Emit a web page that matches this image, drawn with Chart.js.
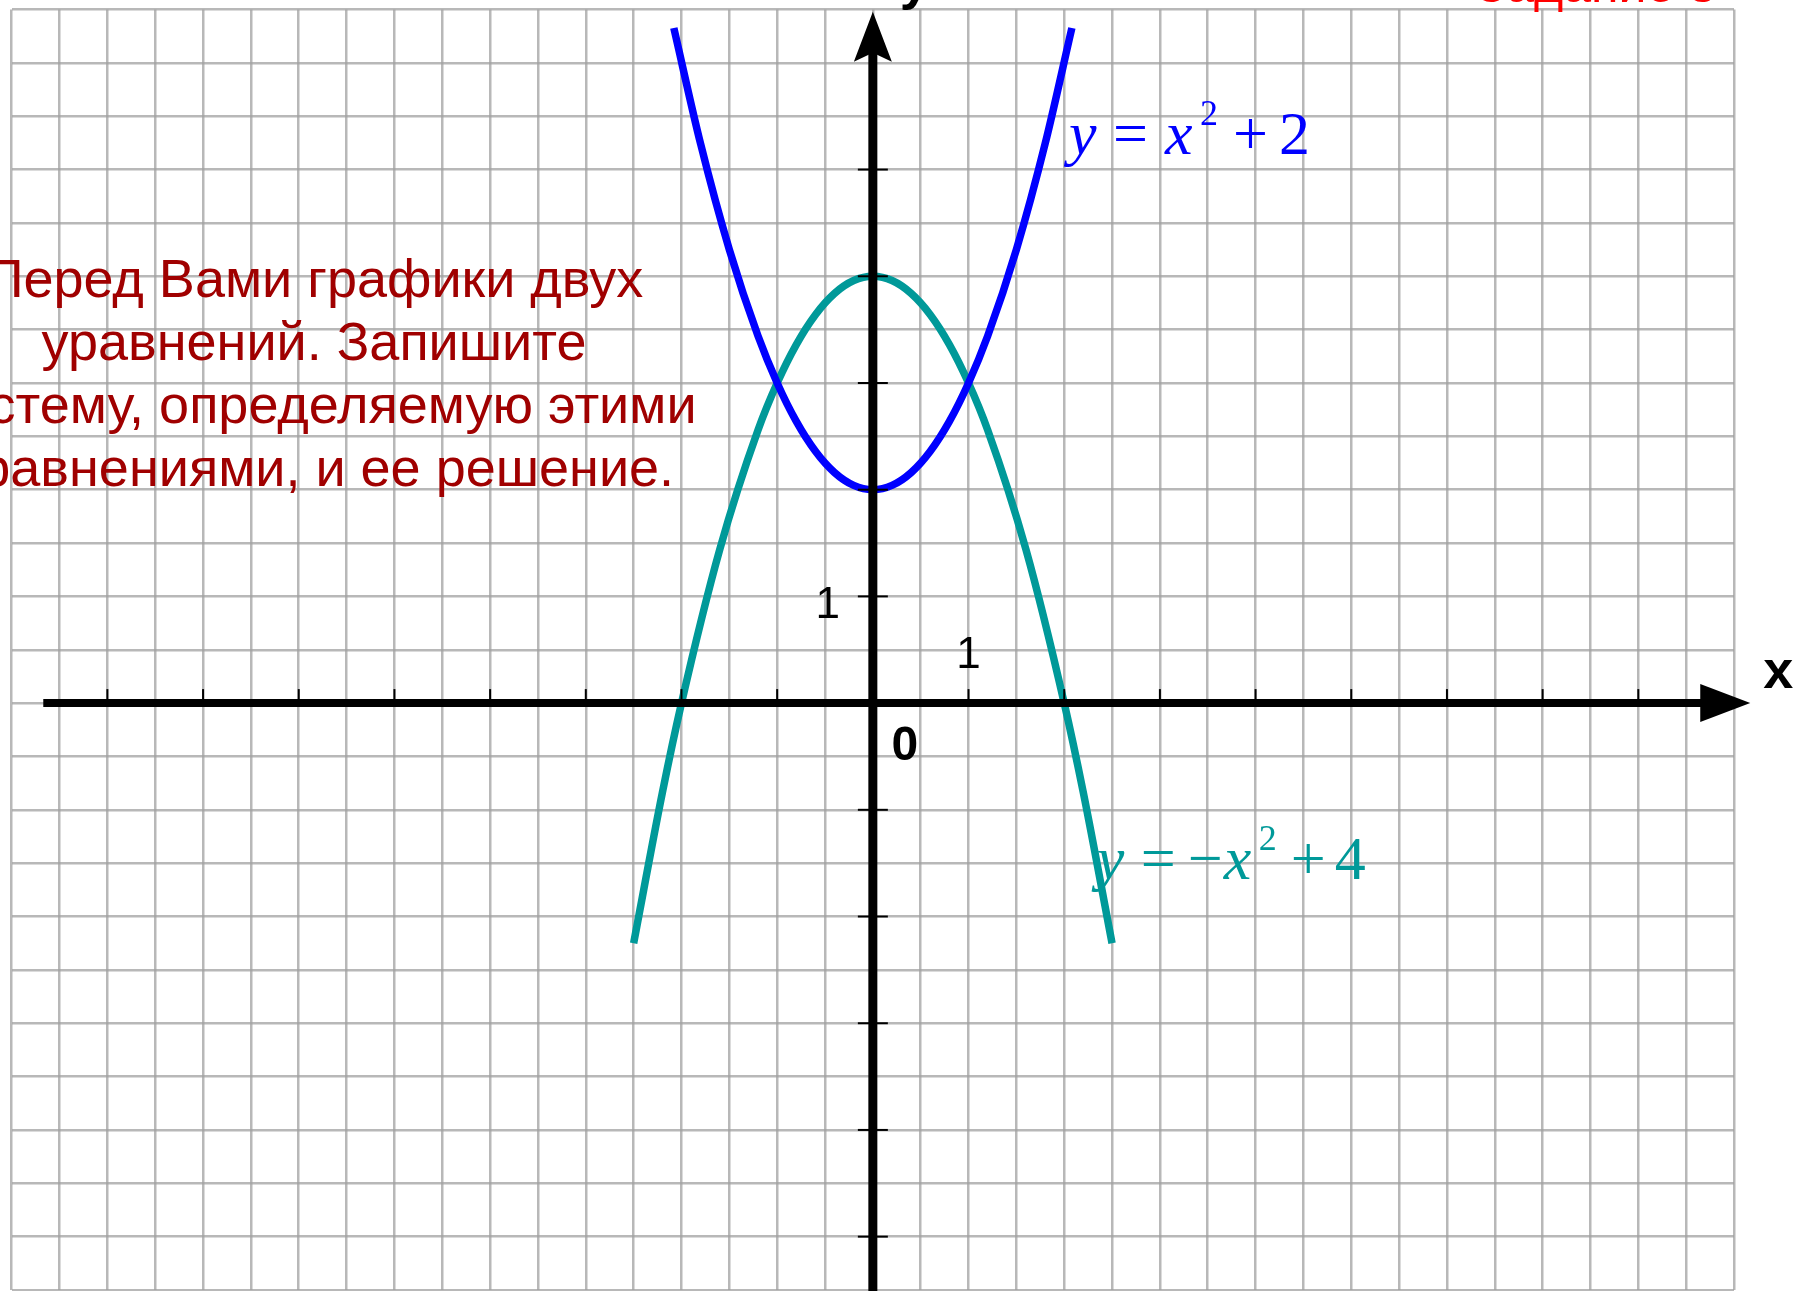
<!DOCTYPE html>
<html lang="ru">
<head>
<meta charset="utf-8">
<title>y = x² + 2, y = −x² + 4</title>
<script src="https://cdn.jsdelivr.net/npm/chart.js@4.4.1/dist/chart.umd.min.js"></script>
<style>
  html, body { margin: 0; padding: 0; background: #fff; overflow: hidden; }
  #wrap { position: relative; width: 1793px; height: 1291px; }
</style>
</head>
<body>
<div id="wrap">
  <canvas id="graph" width="1793" height="1291"></canvas>
</div>
<script>
// y = x^2 + 2
var upperX = [-2.08, -1.8, -1.5, -1.2, -1, -0.8, -0.6, -0.4, -0.2, 0, 0.2, 0.4, 0.6, 0.8, 1, 1.2, 1.5, 1.8, 2.08];
var upperY = [6.3264, 5.24, 4.25, 3.44, 3, 2.64, 2.36, 2.16, 2.04, 2, 2.04, 2.16, 2.36, 2.64, 3, 3.44, 4.25, 5.24, 6.3264];

// y = -x^2 + 4
var lowerX = [-2.5, -2.2, -2, -1.6, -1.2, -1, -0.8, -0.6, -0.4, -0.2, 0, 0.2, 0.4, 0.6, 0.8, 1, 1.2, 1.6, 2, 2.2, 2.5];
var lowerY = [-2.25, -0.84, 0, 1.44, 2.56, 3, 3.36, 3.64, 3.84, 3.96, 4, 3.96, 3.84, 3.64, 3.36, 3, 2.56, 1.44, 0, -0.84, -2.25];

// axis ticks
var xTicks = [-8, -7, -6, -5, -4, -3, -2, -1, 1, 2, 3, 4, 5, 6, 7, 8];
var yTicks = [-5, -4, -3, -2, -1, 1, 2, 3, 4, 5];

var taskText = [
  "Перед Вами графики двух",
  "уравнений. Запишите",
  "систему, определяемую этими",
  "уравнениями, и ее решение."
];

function toPoints(xs, ys) {
  return xs.map(function (x, i) { return { x: x, y: ys[i] }; });
}

var BLUE = "#0000ff";
var TEAL = "#009999";

// black axes with arrows, tick marks and all captions
var axesPlugin = {
  id: "axes",
  afterDatasetsDraw: function (chart) {
    var ctx = chart.ctx;
    var sx = chart.scales.x, sy = chart.scales.y;
    var ox = sx.getPixelForValue(0), oy = sy.getPixelForValue(0);

    ctx.save();
    ctx.strokeStyle = "#000";
    ctx.fillStyle = "#000";

    // x axis
    var xStart = sx.getPixelForValue(-8.67);
    var xTip = sx.getPixelForValue(9.17);
    ctx.lineWidth = 8;
    ctx.beginPath();
    ctx.moveTo(xStart, oy);
    ctx.lineTo(xTip - 40, oy);
    ctx.stroke();
    ctx.beginPath();
    ctx.moveTo(xTip, oy);
    ctx.lineTo(xTip - 50, oy - 19);
    ctx.lineTo(xTip - 50, oy + 19);
    ctx.closePath();
    ctx.fill();

    // y axis
    var yTip = sy.getPixelForValue(6.48);
    ctx.lineWidth = 9;
    ctx.beginPath();
    ctx.moveTo(ox, chart.height + 5);
    ctx.lineTo(ox, yTip + 40);
    ctx.stroke();
    ctx.beginPath();
    ctx.moveTo(ox, yTip);
    ctx.lineTo(ox - 19, yTip + 50);
    ctx.lineTo(ox, yTip + 41);
    ctx.lineTo(ox + 19, yTip + 50);
    ctx.closePath();
    ctx.fill();

    // tick marks
    ctx.lineWidth = 2;
    xTicks.forEach(function (v) {
      var px = sx.getPixelForValue(v);
      ctx.beginPath();
      ctx.moveTo(px, oy);
      ctx.lineTo(px, oy - 14);
      ctx.stroke();
    });
    yTicks.forEach(function (v) {
      var py = sy.getPixelForValue(v);
      ctx.beginPath();
      ctx.moveTo(ox - 15, py);
      ctx.lineTo(ox + 15, py);
      ctx.stroke();
    });

    // tick captions
    ctx.textAlign = "center";
    ctx.textBaseline = "alphabetic";
    ctx.font = "44px 'Liberation Sans', Arial, sans-serif";
    ctx.fillText("1", ox - 45, sy.getPixelForValue(1) + 22);
    ctx.fillText("1", sx.getPixelForValue(1), oy - 35);
    ctx.font = "bold 48px 'Liberation Sans', Arial, sans-serif";
    ctx.fillText("0", ox + 32, oy + 57);

    // axis names
    ctx.textAlign = "left";
    ctx.font = "bold 54px 'Liberation Sans', Arial, sans-serif";
    ctx.fillText("x", xTip + 13, oy - 15);
    ctx.fillText("y", ox + 27, -1);

    // task number, cut by the top edge
    ctx.fillStyle = "#ff0000";
    ctx.font = "50px 'Liberation Sans', Arial, sans-serif";
    ctx.fillText("Задание 3", 1476, 2);

    // task text
    ctx.fillStyle = "#a00000";
    ctx.textAlign = "center";
    ctx.font = "54px 'Liberation Sans', Arial, sans-serif";
    taskText.forEach(function (line, i) {
      ctx.fillText(line, 314, 297 + i * 63);
    });

    // formula captions
    drawFormula(ctx, sx.getPixelForValue(2.05), sy.getPixelForValue(5.15), BLUE, [
      ["y", true, 0, 0], ["=", false, 44, 0], ["x", true, 96, 0], ["2", false, 131, -1],
      ["+", false, 164, 0], ["2", false, 210, 0]
    ]);
    drawFormula(ctx, sx.getPixelForValue(2.34), sy.getPixelForValue(-1.65), TEAL, [
      ["y", true, 0, 0], ["=", false, 44, 0], ["\u2212", false, 91, 0], ["x", true, 127, 0],
      ["2", false, 162, -1], ["+", false, 194, 0], ["4", false, 238, 0]
    ]);

    ctx.restore();
  }
};

function drawFormula(ctx, x, y, color, parts) {
  ctx.fillStyle = color;
  ctx.textAlign = "left";
  parts.forEach(function (p) {
    var sup = p[3] < 0;
    ctx.font = (p[1] ? "italic " : "") + (sup ? "36px" : "62px") + " 'Liberation Serif', 'Times New Roman', serif";
    ctx.fillText(p[0], x + p[2], sup ? y - 29 : y);
  });
}

var gridOpts = { color: "rgba(160,160,160,0.75)", lineWidth: 2.5, drawTicks: false };

new Chart(document.getElementById("graph").getContext("2d"), {
  type: "scatter",
  data: {
    datasets: [
      {
        label: "y = x² + 2",
        data: toPoints(upperX, upperY),
        showLine: true,
        borderColor: BLUE,
        borderWidth: 7.5,
        pointRadius: 0,
        cubicInterpolationMode: "monotone"
      },
      {
        label: "y = −x² + 4",
        data: toPoints(lowerX, lowerY),
        showLine: true,
        borderColor: TEAL,
        borderWidth: 7.5,
        pointRadius: 0,
        cubicInterpolationMode: "monotone"
      }
    ]
  },
  options: {
    responsive: false,
    animation: false,
    devicePixelRatio: 1,
    layout: { padding: { left: 11.7, right: 59, top: 9.5, bottom: 1 } },
    plugins: { legend: { display: false }, tooltip: { enabled: false } },
    scales: {
      x: {
        type: "linear",
        min: -9,
        max: 9,
        ticks: { display: false, stepSize: 0.5 },
        grid: gridOpts,
        border: { display: false },
        afterFit: function (scale) { scale.height = 0; }
      },
      y: {
        type: "linear",
        min: -5.5,
        max: 6.5,
        ticks: { display: false, stepSize: 0.5 },
        grid: gridOpts,
        border: { display: false },
        afterFit: function (scale) { scale.width = 0; }
      }
    }
  },
  plugins: [axesPlugin]
});
</script>
</body>
</html>
